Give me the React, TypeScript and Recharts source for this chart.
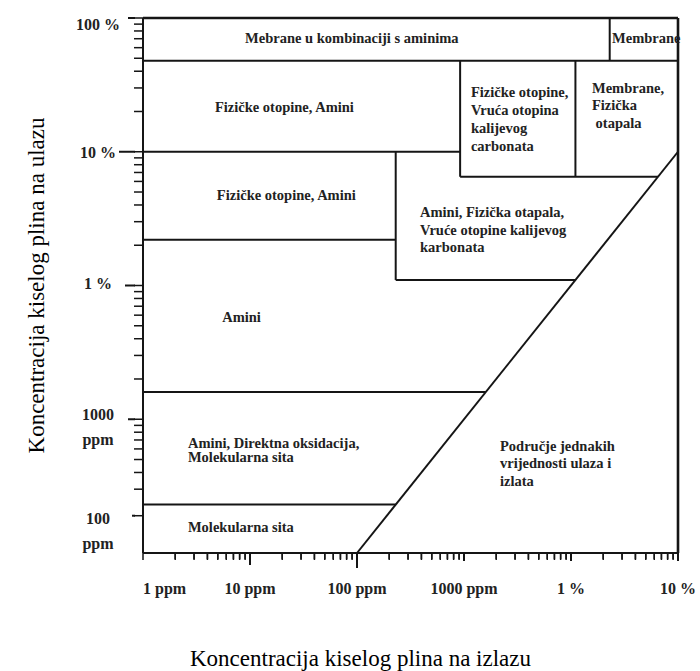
import React from 'react';
import { ComposedChart, Line, XAxis, YAxis, ReferenceLine, ReferenceDot } from 'recharts';

// ---- axes ----
const xMajorTicks = [1, 10, 100, 1000, 10000, 100000];
const xMajorLabels = ['1 ppm', '10 ppm', '100 ppm', '1000 ppm', '1 %', '10 %'];
const xMinorMultipliers = [2, 3, 4, 5, 6, 7, 8, 9];
const xMinorDecades = [1, 10, 100, 1000, 10000];

const yMajorTicks = [1000000, 100000, 10000, 1000, 190];
const yMajorLabels = [['100 %'], ['10 %'], ['1 %'], ['1000', 'ppm'], ['100', 'ppm']];
const yMinorTicks = [
  300, 400, 500, 600, 700, 800, 900,
  2000, 3000, 4000, 5000, 6000, 7000, 8000, 9000,
  20000, 30000, 40000, 50000, 60000, 70000, 80000, 90000,
  200000, 300000, 400000, 500000, 600000, 700000, 800000, 900000,
];
const Y_BOTTOM = 100;

const xTitle = 'Koncentracija kiselog plina na izlazu';
const yTitle = 'Koncentracija kiselog plina na ulazu';

// ---- series: line of equal inlet / outlet concentration (ppm) ----
const equalLine = [
  { x: 100, y: 100 },
  { x: 100000, y: 100000 },
];

// ---- region boundaries, [x1, y1, x2, y2] in ppm ----
const frameSegments = [
  [1, 1000000, 100000, 1000000],
  [100000, 1000000, 100000, 100],
];
const boundarySegments = [
  [1, 480000, 100000, 480000],
  [23000, 480000, 23000, 1000000],
  [920, 480000, 920, 65000],
  [11000, 480000, 11000, 65000],
  [920, 65000, 65000, 65000],
  [1, 100000, 920, 100000],
  [230, 100000, 230, 11000],
  [230, 11000, 11000, 11000],
  [1, 22000, 230, 22000],
  [1, 1600, 1600, 1600],
  [1, 230, 230, 230],
];

// ---- region texts ----
const regionTexts = [
  ['Mebrane u kombinaciji s aminima'],
  ['Membrane'],
  ['Fizičke otopine, Amini'],
  ['Fizičke otopine,', 'Vruća otopina', 'kalijevog', 'carbonata'],
  ['Membrane,', 'Fizička', '\u00A0otapala'],
  ['Fizičke otopine, Amini'],
  ['Amini, Fizička otapala,', 'Vruće otopine kalijevog', 'karbonata'],
  ['Amini'],
  ['Amini, Direktna oksidacija,', 'Molekularna sita'],
  ['Molekularna sita'],
  ['Područje jednakih', 'vrijednosti ulaza i', 'izlata'],
];
// anchor (start of first line baseline) in ppm
const regionAnchorX = [9.0, 24200, 4.7, 1160, 15700, 4.9, 388, 5.5, 2.63, 2.63, 2170];
const regionAnchorY = [650000, 650000, 198000, 256000, 275000, 43500, 32500, 5330, 610, 144, 580];
const regionLineGap = [0, 0, 0, 18, 17.5, 0, 17.5, 0, 14, 0, 17.5];

// ---- styles ----
const FONT = "'Times New Roman', 'Liberation Serif', serif";
const INK = '#151515';
const TEXT = '#222222';
const X_TICK = 7;
const PX_PER_DECADE_Y = 133.75;
const xMajorTickLen = [0, 12, 15, 8, 8, 8];
const yMajorTickExtra = [6, 15, 9, 6, 2];
const yLabelBaseline = [12, 6, 3, 1, 8];

const xTicks = [
  ...xMajorTicks,
  ...xMinorDecades.flatMap((d) => xMinorMultipliers.map((m) => m * d)),
];
const yTicks = [...yMajorTicks, ...yMinorTicks];

function XTick(props: any) {
  const { x, y, payload } = props;
  const v = payload.value;
  const idx = xMajorTicks.indexOf(v);
  if (idx < 0) return <g />;
  return (
    <text
      x={x}
      y={y + 34}
      textAnchor={idx === 0 ? 'start' : 'middle'}
      style={{ fontFamily: FONT, fontSize: 16, fontWeight: 'bold' }}
      fill={TEXT}
    >
      {xMajorLabels[idx]}
    </text>
  );
}

function YTick(props: any) {
  const { x, y, payload } = props;
  const v = payload.value;
  const idx = yMajorTicks.indexOf(v);
  if (idx < 0) return <g />;
  const extra = yMajorTickExtra[idx];
  return (
    <g>
      <path d={`M${x - extra},${y}L${x + 1},${y}`} stroke={INK} strokeWidth={2} fill="none" />
      {yMajorLabels[idx].map((t, i) => (
        <text
          key={i}
          x={x - 36}
          y={y + yLabelBaseline[idx] + i * 25}
          textAnchor="middle"
          style={{ fontFamily: FONT, fontSize: 16, fontWeight: 'bold' }}
          fill={TEXT}
        >
          {t}
        </text>
      ))}
    </g>
  );
}

function XTitle(props: any) {
  const vb = props.viewBox || {};
  const cx = vb.x + vb.width / 2 - 50;
  return (
    <text
      x={cx}
      y={vb.y + 113}
      textAnchor="middle"
      style={{ fontFamily: FONT, fontSize: 23 }}
      fill="#000"
    >
      {xTitle}
    </text>
  );
}

function YTitle(props: any) {
  const vb = props.viewBox || {};
  const cx = vb.x + vb.width - 107;
  const cy = vb.y + vb.height / 2;
  return (
    <text
      x={cx}
      y={cy}
      transform={`rotate(-90, ${cx}, ${cy})`}
      textAnchor="middle"
      dominantBaseline="central"
      style={{ fontFamily: FONT, fontSize: 23 }}
      fill="#000"
    >
      {yTitle}
    </text>
  );
}

function makeTextShape(lines: string[], gap: number) {
  return (p: any) => (
    <text
      x={p.cx}
      y={p.cy}
      style={{ fontFamily: FONT, fontSize: 14.5, fontWeight: 'bold' }}
      fill={TEXT}
    >
      {lines.map((t, i) => (
        <tspan key={i} x={p.cx} y={p.cy + i * gap}>
          {t}
        </tspan>
      ))}
    </text>
  );
}

export default function App() {
  return (
    <div style={{ position: 'absolute', left: 0, top: 0, width: 700, height: 671, background: '#fff' }}>
      <ComposedChart
        width={700}
        height={671}
        data={equalLine}
        margin={{ top: 18, right: 22, bottom: 117, left: 142 }}
      >
        <XAxis
          dataKey="x"
          type="number"
          scale="log"
          domain={[1, 100000]}
          ticks={xTicks}
          interval={0}
          height={1}
          tickSize={X_TICK}
          tickMargin={0}
          tickLine={{ stroke: INK, strokeWidth: 1.5 }}
          axisLine={{ stroke: INK, strokeWidth: 2 }}
          tick={<XTick />}
          label={XTitle}
        />
        <YAxis
          type="number"
          scale="log"
          domain={[100, 1000000]}
          ticks={yTicks}
          interval={0}
          width={1}
          tickSize={9}
          tickMargin={0}
          tickLine={{ stroke: INK, strokeWidth: 1.5 }}
          axisLine={{ stroke: INK, strokeWidth: 2 }}
          tick={<YTick />}
          label={YTitle}
        />
        {frameSegments.map((s, i) => (
          <ReferenceLine
            key={'f' + i}
            segment={[{ x: s[0], y: s[1] }, { x: s[2], y: s[3] }]}
            stroke={INK}
            strokeWidth={2.6}
            ifOverflow="visible"
          />
        ))}
        {boundarySegments.map((s, i) => (
          <ReferenceLine
            key={'b' + i}
            segment={[{ x: s[0], y: s[1] }, { x: s[2], y: s[3] }]}
            stroke={INK}
            strokeWidth={2}
            ifOverflow="visible"
          />
        ))}
        <Line
          dataKey="y"
          stroke={INK}
          strokeWidth={2}
          dot={false}
          isAnimationActive={false}
          legendType="none"
        />
        {xTicks.map((v, i) => {
          const idx = xMajorTicks.indexOf(v);
          const len = idx >= 0 ? xMajorTickLen[idx] : 6;
          if (len <= 0) return null;
          const yEnd = Y_BOTTOM * Math.pow(10, -len / PX_PER_DECADE_Y);
          return (
            <ReferenceLine
              key={'xt' + i}
              segment={[{ x: v, y: Y_BOTTOM }, { x: v, y: yEnd }]}
              stroke={INK}
              strokeWidth={idx >= 0 ? 2 : 1.5}
              ifOverflow="visible"
            />
          );
        })}
        {regionTexts.map((lines, i) => (
          <ReferenceDot
            key={'t' + i}
            x={regionAnchorX[i]}
            y={regionAnchorY[i]}
            r={0}
            ifOverflow="visible"
            shape={makeTextShape(lines, regionLineGap[i])}
          />
        ))}
      </ComposedChart>
    </div>
  );
}
